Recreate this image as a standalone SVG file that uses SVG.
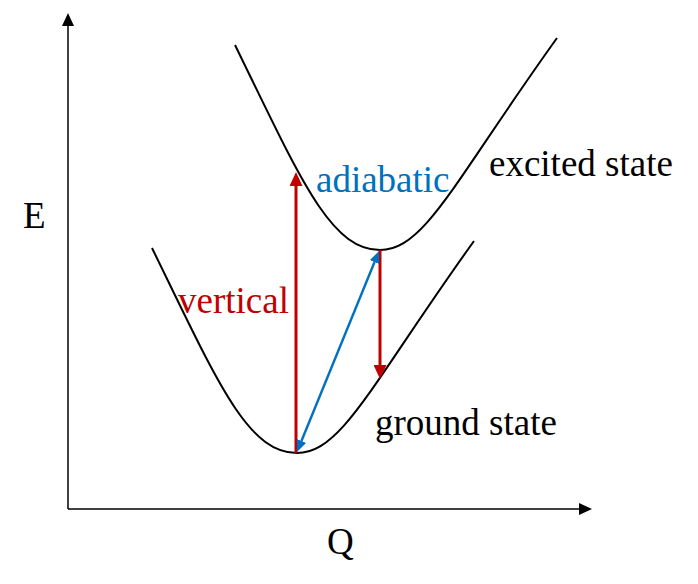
<svg xmlns="http://www.w3.org/2000/svg" width="698" height="584" viewBox="0 0 698 584">
<style>
  .curve { fill: none; stroke: #000; stroke-width: 2; }
  .axis { stroke: #000; stroke-width: 1.5; fill: none; }
  .red { stroke: #C00000; stroke-width: 3; fill: none; }
  .blue { stroke: #0070C0; stroke-width: 2.5; fill: none; }
</style>
<defs>
  <marker id="ahBlack" viewBox="0 0 13 12" refX="0" refY="6" markerUnits="userSpaceOnUse" markerWidth="13" markerHeight="12" orient="auto">
    <path d="M0,0 L13,6 L0,12 z" fill="#000"/>
  </marker>
  <marker id="ahRed" viewBox="0 0 14 13" refX="0" refY="6.5" markerUnits="userSpaceOnUse" markerWidth="14" markerHeight="13" orient="auto">
    <path d="M0,0 L14,6.5 L0,13 z" fill="#C00000"/>
  </marker>
  <marker id="ahBlue" viewBox="0 0 12 10" refX="0" refY="5" markerUnits="userSpaceOnUse" markerWidth="12" markerHeight="10" orient="auto-start-reverse">
    <path d="M0,0 L12,5 L0,10 z" fill="#0070C0"/>
  </marker>
</defs>

<g id="axes">
  <line class="axis" x1="68" y1="509" x2="68" y2="26" marker-end="url(#ahBlack)"/>
  <line class="axis" x1="68" y1="509" x2="579" y2="509" marker-end="url(#ahBlack)"/>
</g>

<g id="excited-state-curve">
  <path class="curve" d="M235,45 C300,178 330,250 380,250 C425,250 455,180 557,38"/>
</g>
<g id="ground-state-curve">
  <path class="curve" transform="translate(-83,203)" d="M235,45 C300,178 330,250 380,250 C425,250 455,180 557,38"/>
</g>

<g id="connectors">
  <line class="red" x1="296" y1="453" x2="296" y2="186" marker-end="url(#ahRed)"/>
  <line class="red" x1="380" y1="250" x2="380" y2="365" marker-end="url(#ahRed)"/>
  <line class="blue" x1="301.5" y1="440.9" x2="374.5" y2="262.1" marker-start="url(#ahBlue)" marker-end="url(#ahBlue)"/>
</g>

<g id="labels" font-family="'Liberation Serif', 'Times New Roman', 'DejaVu Serif', serif" font-size="37">
  <text x="23" y="228">E</text>
  <text x="327" y="554">Q</text>
  <text x="316" y="192" fill="#0070C0">adiabatic</text>
  <text x="489" y="176">excited state</text>
  <text x="178" y="313" fill="#C00000">vertical</text>
  <text x="375" y="435">ground state</text>
</g>
</svg>
